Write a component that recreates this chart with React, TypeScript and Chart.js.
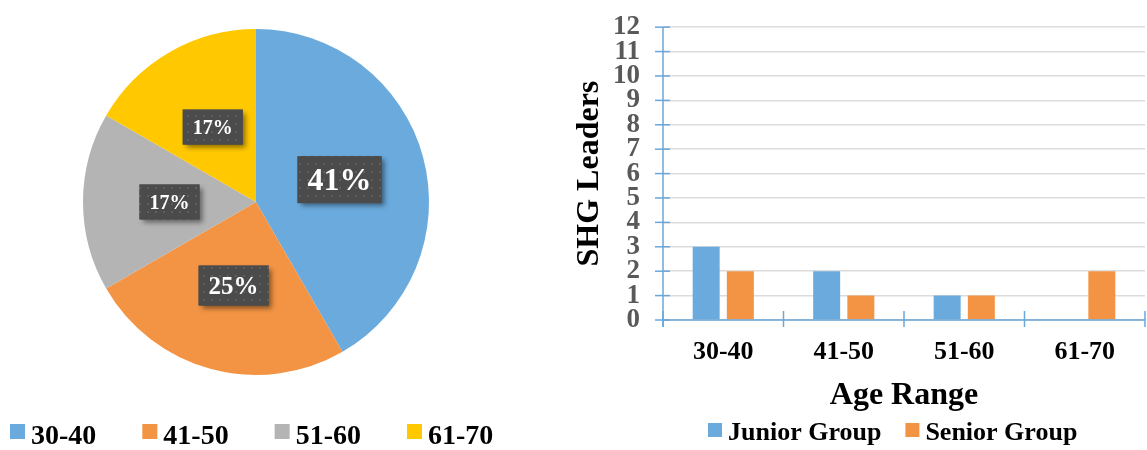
import React, { useEffect, useRef } from "react";
import { Chart, registerables } from "chart.js";

Chart.register(...registerables);

// ---------- data ----------
const ageRanges = ["30-40", "41-50", "51-60", "61-70"];
const pieCounts = [5, 3, 2, 2];
const pieLabels = ["41%", "25%", "17%", "17%"];
const seriesNames = ["Junior Group", "Senior Group"];
const juniorGroup = [3, 2, 1, 0];
const seniorGroup = [2, 1, 1, 2];
const yAxisMin = 0;
const yAxisMax = 12;
const yAxisStep = 1;
const yAxisTitle = "SHG Leaders";
const xAxisTitle = "Age Range";

// ---------- styles ----------
const FONT = "'Liberation Serif', 'Times New Roman', serif";
const BLUE = "#6aaadc";
const ORANGE = "#f39444";
const GRAY = "#b4b4b4";
const YELLOW = "#ffc800";
const AXIS_BLUE = "#6aa6d8";
const pieColors = [BLUE, ORANGE, GRAY, YELLOW];
const labelFontPx = [32, 25, 20, 20];

function makeDotPattern(ctx: CanvasRenderingContext2D) {
  const pc = document.createElement("canvas");
  pc.width = 8;
  pc.height = 8;
  const p = pc.getContext("2d")!;
  p.fillStyle = "#4b4b4b";
  p.fillRect(0, 0, 8, 8);
  p.fillStyle = "#5e5e5e";
  p.fillRect(3, 3, 2, 2);
  return ctx.createPattern(pc, "repeat");
}

const pieLabelPlugin = {
  id: "pieLabelBoxes",
  afterDatasetsDraw(chart: any) {
    const ctx: CanvasRenderingContext2D = chart.ctx;
    const meta = chart.getDatasetMeta(0);
    const pattern = makeDotPattern(ctx);
    meta.data.forEach((arc: any, i: number) => {
      const { x, y } = arc.getCenterPoint();
      const size = labelFontPx[i];
      const text = pieLabels[i];
      ctx.save();
      ctx.font = `bold ${size}px ${FONT}`;
      const tw = ctx.measureText(text).width;
      const bw = tw + 20;
      const bh = size + 15;
      const bx = x - bw / 2;
      const by = y - bh / 2;
      ctx.shadowColor = "rgba(0,0,0,0.45)";
      ctx.shadowBlur = 5;
      ctx.shadowOffsetX = 3;
      ctx.shadowOffsetY = 3;
      ctx.fillStyle = "#4b4b4b";
      ctx.fillRect(bx, by, bw, bh);
      ctx.shadowColor = "transparent";
      if (pattern) {
        ctx.fillStyle = pattern;
        ctx.fillRect(bx, by, bw, bh);
      }
      ctx.fillStyle = "#ffffff";
      ctx.textAlign = "center";
      ctx.textBaseline = "alphabetic";
      ctx.fillText(text, x, y + size * 0.33);
      ctx.restore();
    });
  },
};

const pieLegendPlugin = {
  id: "pieLegend",
  afterDraw(chart: any) {
    const ctx: CanvasRenderingContext2D = chart.ctx;
    const labels: string[] = chart.data.labels;
    const colors: string[] = chart.data.datasets[0].backgroundColor;
    ctx.save();
    ctx.font = `bold 28px ${FONT}`;
    ctx.textBaseline = "alphabetic";
    ctx.textAlign = "left";
    let x = 10;
    labels.forEach((lab, i) => {
      ctx.fillStyle = colors[i];
      ctx.fillRect(x, 424, 15, 15);
      ctx.fillStyle = "#000";
      ctx.fillText(lab, x + 21, 444);
      x += 21 + ctx.measureText(lab).width + 46;
    });
    ctx.restore();
  },
};

const barLegendPlugin = {
  id: "barLegend",
  afterDraw(chart: any) {
    const ctx: CanvasRenderingContext2D = chart.ctx;
    ctx.save();
    ctx.font = `bold 26px ${FONT}`;
    ctx.textBaseline = "alphabetic";
    ctx.textAlign = "left";
    let x = 148;
    chart.data.datasets.forEach((ds: any) => {
      ctx.fillStyle = ds.backgroundColor;
      ctx.fillRect(x, 423, 14, 14);
      ctx.fillStyle = "#000";
      ctx.fillText(ds.label, x + 20, 440);
      x += 20 + ctx.measureText(ds.label).width + 24;
    });
    ctx.restore();
  },
};

const axisDecoPlugin = {
  id: "axisDeco",
  afterDraw(chart: any) {
    const ctx: CanvasRenderingContext2D = chart.ctx;
    const { left, right, top, bottom } = chart.chartArea;
    const xs = chart.scales.x;
    const ys = chart.scales.y;
    ctx.save();
    ctx.strokeStyle = AXIS_BLUE;
    ctx.lineWidth = 1.5;
    const line = (x1: number, y1: number, x2: number, y2: number) => {
      ctx.beginPath();
      ctx.moveTo(x1, y1);
      ctx.lineTo(x2, y2);
      ctx.stroke();
    };
    line(left, top, left, bottom + 7);
    line(left, bottom, right, bottom);
    ys.ticks.forEach((t: any) => {
      const py = ys.getPixelForValue(t.value);
      line(left - 8, py, left + 7, py);
    });
    const n = chart.data.labels.length;
    for (let i = 0; i <= n; i++) {
      const px = xs.getPixelForValue(i - 0.5);
      line(px, bottom - 9, px, bottom + 7);
    }
    ctx.restore();
  },
};

export default function App() {
  const pieRef = useRef<HTMLCanvasElement>(null);
  const barRef = useRef<HTMLCanvasElement>(null);

  useEffect(() => {
    const pie = new Chart(pieRef.current!, {
      type: "pie",
      data: {
        labels: ageRanges,
        datasets: [{ data: pieCounts, backgroundColor: pieColors, borderWidth: 0 }],
      },
      options: {
        responsive: false,
        animation: false,
        layout: { padding: { top: 29, bottom: 75, left: 0, right: 0 } },
        plugins: { legend: { display: false }, tooltip: { enabled: false } },
      },
      plugins: [pieLabelPlugin, pieLegendPlugin],
    } as any);

    const bar = new Chart(barRef.current!, {
      type: "bar",
      data: {
        labels: ageRanges,
        datasets: [
          { label: seriesNames[0], data: juniorGroup, backgroundColor: BLUE, categoryPercentage: 0.567, barPercentage: 0.79 },
          { label: seriesNames[1], data: seniorGroup, backgroundColor: ORANGE, categoryPercentage: 0.567, barPercentage: 0.79 },
        ],
      },
      options: {
        responsive: false,
        animation: false,
        layout: { padding: { top: 13, right: 2, bottom: 35, left: 0 } },
        plugins: { legend: { display: false }, tooltip: { enabled: false } },
        scales: {
          x: {
            grid: { drawOnChartArea: false, tickLength: 7, tickColor: "rgba(0,0,0,0)", offset: true },
            border: { display: false },
            ticks: { color: "#000", font: { family: FONT, size: 26, weight: "bold" }, padding: 10 },
            title: {
              display: true,
              text: xAxisTitle,
              color: "#000",
              font: { family: FONT, size: 32, weight: "bold", lineHeight: 1.2 },
              padding: { top: 0, bottom: 0 },
            },
            afterFit: (s: any) => {
              s.height = 95;
            },
          },
          y: {
            min: yAxisMin,
            max: yAxisMax,
            ticks: {
              stepSize: yAxisStep,
              autoSkip: false,
              color: "#595959",
              font: { family: FONT, size: 27, weight: "bold", lineHeight: 0.9 },
              padding: 15,
            },
            grid: { color: "#dcdcdc", lineWidth: 1.5, tickLength: 8, tickColor: "rgba(0,0,0,0)" },
            border: { display: false },
            title: {
              display: true,
              text: yAxisTitle,
              color: "#000",
              font: { family: FONT, size: 32, weight: "bold", lineHeight: 1.2 },
              padding: { top: 11, bottom: 0 },
            },
            afterFit: (s: any) => {
              s.width = 103;
            },
          },
        },
      },
      plugins: [axisDecoPlugin, barLegendPlugin],
    } as any);

    return () => {
      pie.destroy();
      bar.destroy();
    };
  }, []);

  return (
    <div style={{ position: "absolute", left: 0, top: 0, width: 1147, height: 450, background: "#fff" }}>
      <canvas ref={pieRef} width={512} height={450} style={{ position: "absolute", left: 0, top: 0 }} />
      <canvas ref={barRef} width={587} height={450} style={{ position: "absolute", left: 560, top: 0 }} />
    </div>
  );
}
